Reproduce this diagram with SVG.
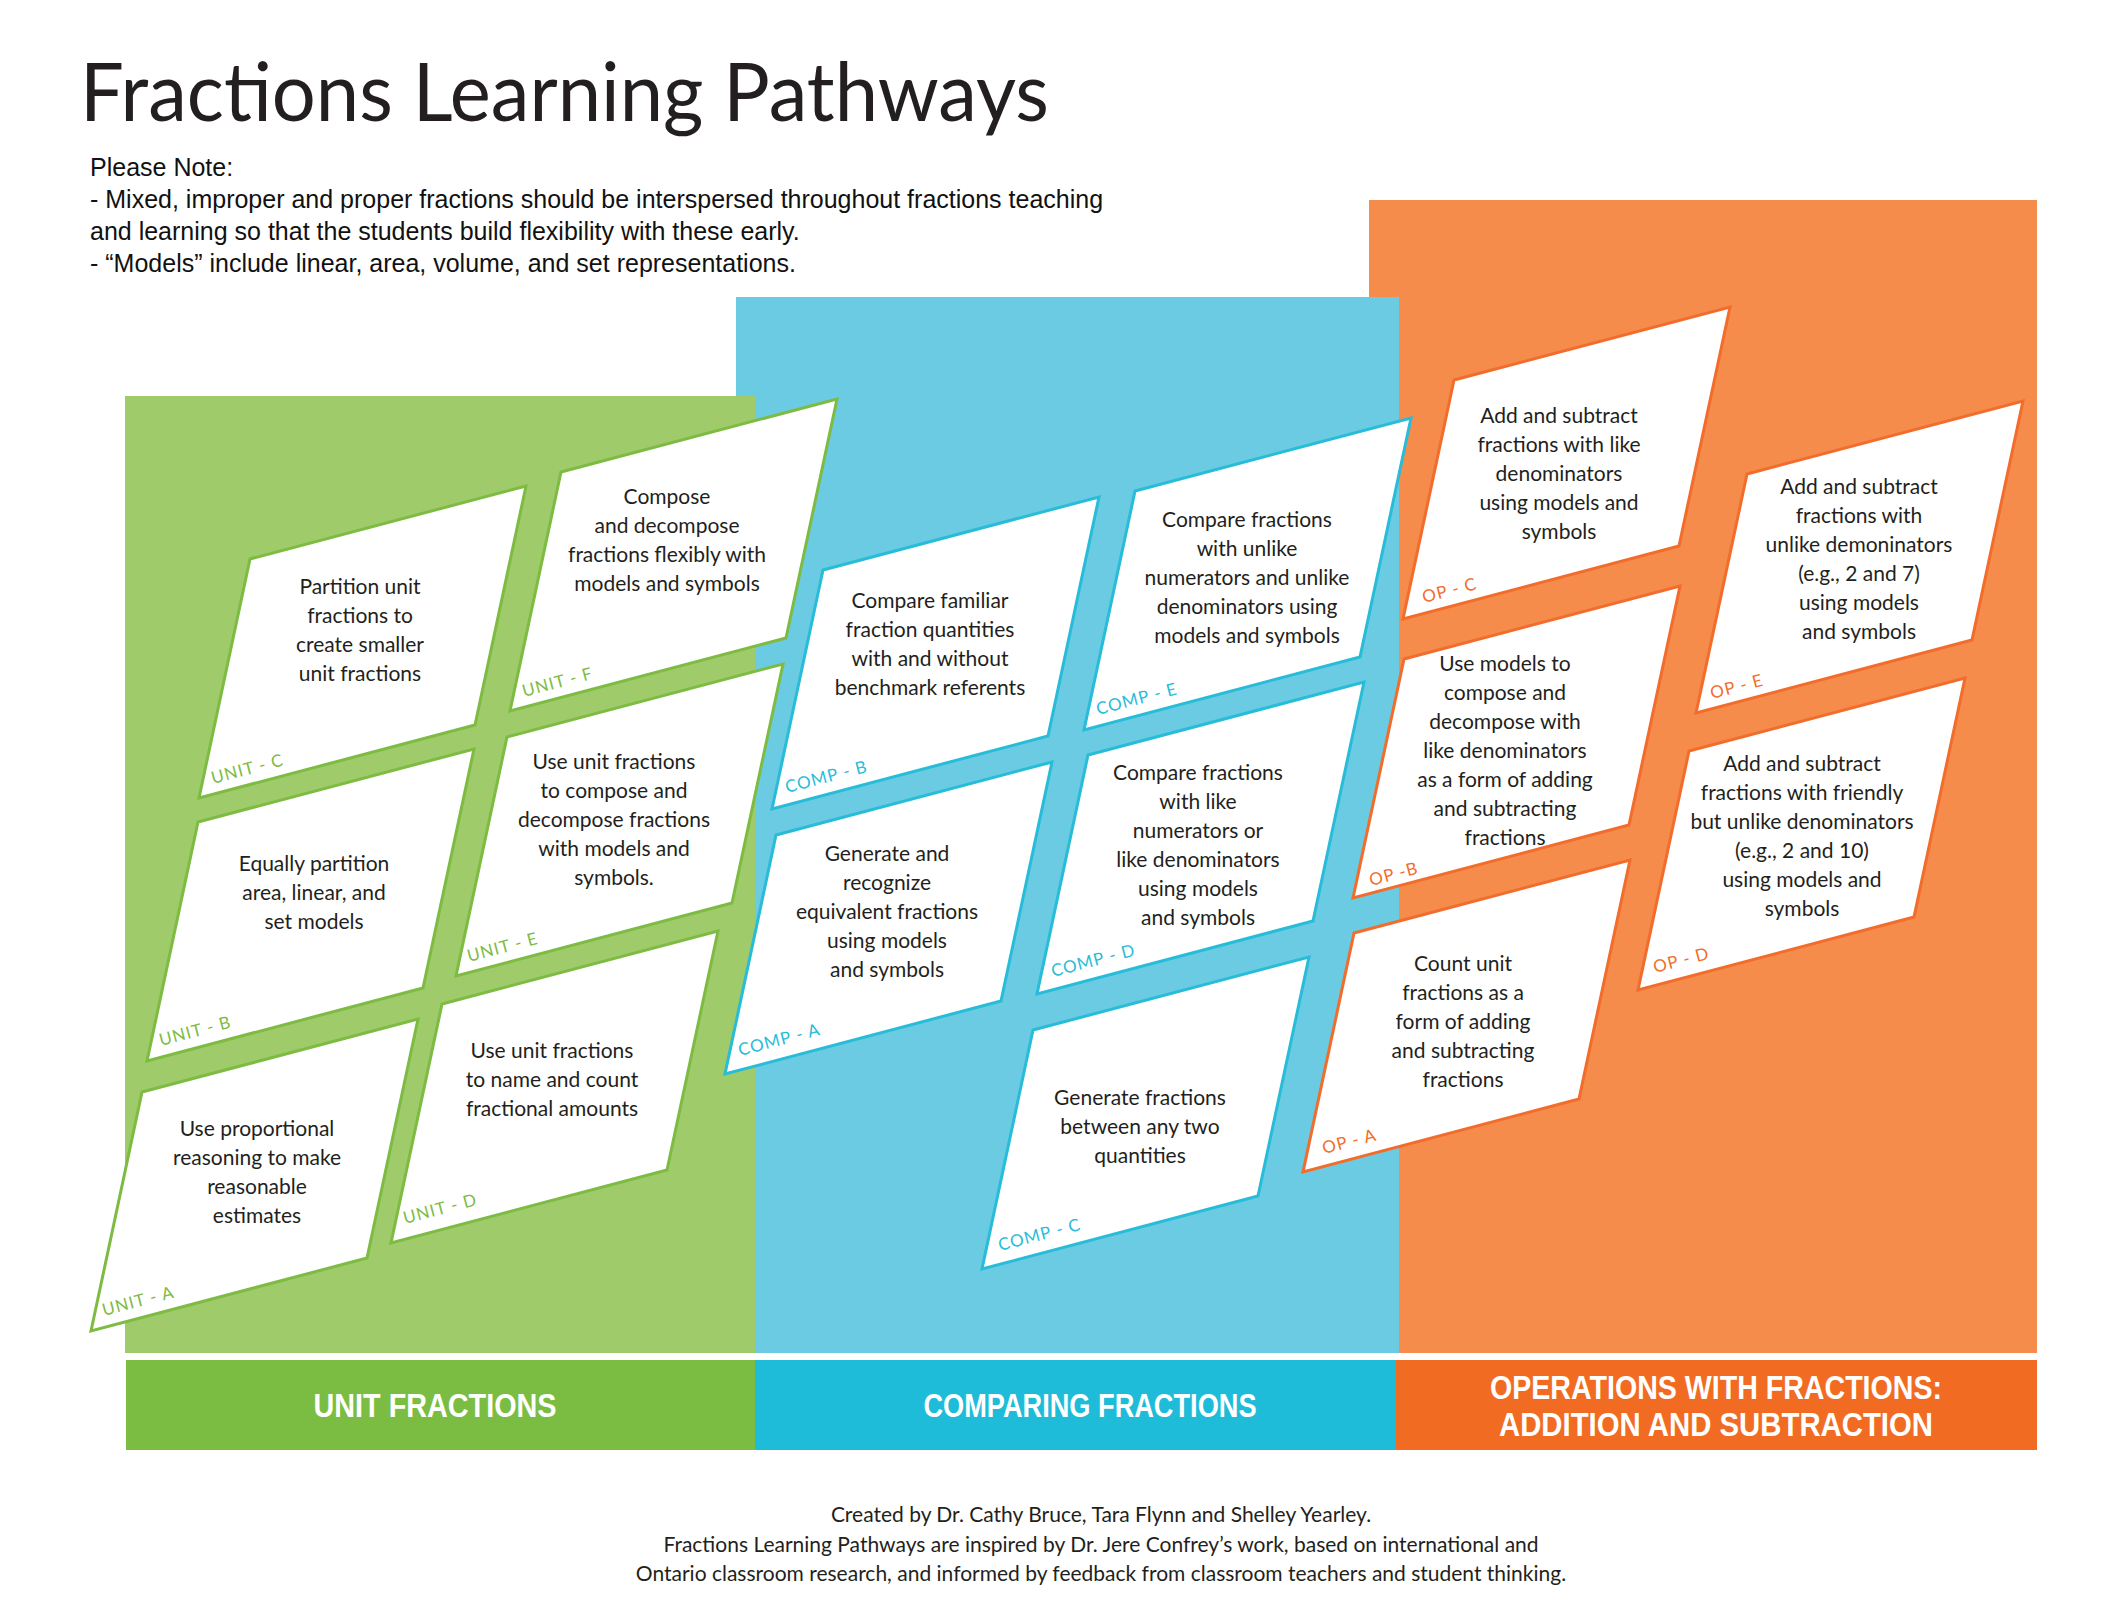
<svg xmlns="http://www.w3.org/2000/svg" width="2105" height="1615" viewBox="0 0 2105 1615">
<style>
.card{fill:#fff;stroke-width:3;stroke-linejoin:miter}
.g .card{stroke:#7dbb42}.b .card{stroke:#27bcd8}.o .card{stroke:#f26c2b}
.t{font-family:Lato,"Open Sans",sans-serif;font-size:21px;fill:#231f20;text-anchor:middle}
.lb{font-family:Lato,"Open Sans",sans-serif;font-size:17px;letter-spacing:1px}
.g .lb{fill:#7dbb42}.b .lb{fill:#27bcd8}.o .lb{fill:#f26c2b}
.bar{font-family:"Liberation Sans Narrow","Liberation Sans",sans-serif;font-weight:bold;font-size:33px;fill:#fff;text-anchor:middle}
.note{font-family:"Liberation Sans",Arial,sans-serif;font-size:25px;fill:#111}
.foot{font-family:Lato,"Open Sans",sans-serif;font-size:21px;fill:#231f20;text-anchor:middle}
</style>
<defs>
<path id="pg" d="M0,0 L276,-73 L225,166 L-51,239 Z"/>
</defs>
<rect width="2105" height="1615" fill="#fff"/>
<text x="80" y="121" font-family="Lato,'Open Sans',sans-serif" font-size="82" fill="#231f20" textLength="969" lengthAdjust="spacingAndGlyphs">Fractions Learning Pathways</text>
<g class="note">
<text x="90" y="176">Please Note:</text>
<text x="90" y="208">- Mixed, improper and proper fractions should be interspersed throughout fractions teaching</text>
<text x="90" y="240">   and learning so that the students build flexibility with these early.</text>
<text x="90" y="272">- “Models” include linear, area, volume, and set representations.</text>
</g>
<g id="panels">
<rect x="1369" y="200" width="668" height="1153" fill="#f58c4c"/>
<rect x="736" y="297" width="663" height="1056" fill="#6bcbe3"/>
<rect x="125" y="396" width="630" height="957" fill="#a0cb6a"/>
<rect x="126" y="1360" width="629" height="90" fill="#7bbd42"/>
<rect x="755" y="1360" width="641" height="90" fill="#1fbcd9"/>
<rect x="1396" y="1360" width="641" height="90" fill="#f26b22"/>
<text class="bar" x="435" y="1417" textLength="243" lengthAdjust="spacingAndGlyphs">UNIT FRACTIONS</text>
<text class="bar" x="1090" y="1417" textLength="333" lengthAdjust="spacingAndGlyphs">COMPARING FRACTIONS</text>
<text class="bar" x="1716" y="1399" textLength="452" lengthAdjust="spacingAndGlyphs">OPERATIONS WITH FRACTIONS:</text>
<text class="bar" x="1716" y="1436" textLength="434" lengthAdjust="spacingAndGlyphs">ADDITION AND SUBTRACTION</text>
</g>
<g id="connectors"></g>

<g class="g">
<g id="unit-c"><use href="#pg" x="250" y="559" class="card"/>
<text class="t" x="360"><tspan x="360" y="594">Partition unit</tspan><tspan x="360" y="623">fractions to</tspan><tspan x="360" y="652">create smaller</tspan><tspan x="360" y="681">unit fractions</tspan></text>
<text class="lb" transform="translate(213,784) rotate(-14.7)">UNIT -  C</text></g>
<g id="unit-f"><use href="#pg" x="561" y="472" class="card"/>
<text class="t"><tspan x="667" y="504">Compose</tspan><tspan x="667" y="533">and decompose</tspan><tspan x="667" y="562">fractions flexibly with</tspan><tspan x="667" y="591">models and symbols</tspan></text>
<text class="lb" transform="translate(524,697) rotate(-14.7)">UNIT - F</text></g>
<g id="unit-b"><use href="#pg" x="198" y="822" class="card"/>
<text class="t"><tspan x="314" y="871">Equally partition</tspan><tspan x="314" y="900">area, linear, and</tspan><tspan x="314" y="929">set models</tspan></text>
<text class="lb" transform="translate(161,1046) rotate(-14.7)">UNIT - B</text></g>
<g id="unit-e"><use href="#pg" x="507" y="737" class="card"/>
<text class="t"><tspan x="614" y="769">Use unit fractions</tspan><tspan x="614" y="798">to compose and</tspan><tspan x="614" y="827">decompose fractions</tspan><tspan x="614" y="856">with models and</tspan><tspan x="614" y="885">symbols.</tspan></text>
<text class="lb" transform="translate(469,962) rotate(-14.7)">UNIT - E</text></g>
<g id="unit-a"><use href="#pg" x="142" y="1092" class="card"/>
<text class="t"><tspan x="257" y="1136">Use proportional</tspan><tspan x="257" y="1165">reasoning to make</tspan><tspan x="257" y="1194">reasonable</tspan><tspan x="257" y="1223">estimates</tspan></text>
<text class="lb" transform="translate(104,1316) rotate(-14.7)">UNIT - A</text></g>
<g id="unit-d"><use href="#pg" x="442" y="1004" class="card"/>
<text class="t"><tspan x="552" y="1058">Use unit fractions</tspan><tspan x="552" y="1087">to name and count</tspan><tspan x="552" y="1116">fractional amounts</tspan></text>
<text class="lb" transform="translate(405,1224) rotate(-14.7)">UNIT - D</text></g>
</g>

<g class="b">
<g id="comp-b"><use href="#pg" x="823" y="570" class="card"/>
<text class="t"><tspan x="930" y="608">Compare familiar</tspan><tspan x="930" y="637">fraction quantities</tspan><tspan x="930" y="666">with and without</tspan><tspan x="930" y="695">benchmark referents</tspan></text>
<text class="lb" transform="translate(787,793) rotate(-14.7)">COMP - B</text></g>
<g id="comp-e"><use href="#pg" x="1135" y="491" class="card"/>
<text class="t"><tspan x="1247" y="527">Compare fractions</tspan><tspan x="1247" y="556">with unlike</tspan><tspan x="1247" y="585">numerators and unlike</tspan><tspan x="1247" y="614">denominators using</tspan><tspan x="1247" y="643">models and symbols</tspan></text>
<text class="lb" transform="translate(1098,715) rotate(-14.7)">COMP - E</text></g>
<g id="comp-a"><use href="#pg" x="776" y="835" class="card"/>
<text class="t"><tspan x="887" y="861">Generate and</tspan><tspan x="887" y="890">recognize</tspan><tspan x="887" y="919">equivalent fractions</tspan><tspan x="887" y="948">using models</tspan><tspan x="887" y="977">and symbols</tspan></text>
<text class="lb" transform="translate(740,1056) rotate(-14.7)">COMP - A</text></g>
<g id="comp-d"><use href="#pg" x="1088" y="755" class="card"/>
<text class="t"><tspan x="1198" y="780">Compare fractions</tspan><tspan x="1198" y="809">with like</tspan><tspan x="1198" y="838">numerators or</tspan><tspan x="1198" y="867">like denominators</tspan><tspan x="1198" y="896">using models</tspan><tspan x="1198" y="925">and symbols</tspan></text>
<text class="lb" transform="translate(1053,977) rotate(-14.7)">COMP - D</text></g>
<g id="comp-c"><use href="#pg" x="1033" y="1030" class="card"/>
<text class="t"><tspan x="1140" y="1105">Generate fractions</tspan><tspan x="1140" y="1134">between any two</tspan><tspan x="1140" y="1163">quantities</tspan></text>
<text class="lb" transform="translate(1000,1251) rotate(-14.7)">COMP - C</text></g>
</g>

<g class="o">
<g id="op-c"><use href="#pg" x="1454" y="380" class="card"/>
<text class="t"><tspan x="1559" y="423">Add and subtract</tspan><tspan x="1559" y="452">fractions with like</tspan><tspan x="1559" y="481">denominators</tspan><tspan x="1559" y="510">using models and</tspan><tspan x="1559" y="539">symbols</tspan></text>
<text class="lb" transform="translate(1424,603) rotate(-14.7)">OP - C</text></g>
<g id="op-b"><use href="#pg" x="1404" y="659" class="card"/>
<text class="t"><tspan x="1505" y="671">Use models to</tspan><tspan x="1505" y="700">compose and</tspan><tspan x="1505" y="729">decompose with</tspan><tspan x="1505" y="758">like denominators</tspan><tspan x="1505" y="787">as a form of adding</tspan><tspan x="1505" y="816">and subtracting</tspan><tspan x="1505" y="845">fractions</tspan></text>
<text class="lb" transform="translate(1371,886) rotate(-14.7)">OP -B</text></g>
<g id="op-a"><use href="#pg" x="1354" y="933" class="card"/>
<text class="t"><tspan x="1463" y="971">Count unit</tspan><tspan x="1463" y="1000">fractions as a</tspan><tspan x="1463" y="1029">form of adding</tspan><tspan x="1463" y="1058">and subtracting</tspan><tspan x="1463" y="1087">fractions</tspan></text>
<text class="lb" transform="translate(1324,1154) rotate(-14.7)">OP - A</text></g>
<g id="op-e"><use href="#pg" x="1747" y="474" class="card"/>
<text class="t"><tspan x="1859" y="494">Add and subtract</tspan><tspan x="1859" y="523">fractions with</tspan><tspan x="1859" y="552">unlike demoninators</tspan><tspan x="1859" y="581">(e.g., 2 and 7)</tspan><tspan x="1859" y="610">using models</tspan><tspan x="1859" y="639">and symbols</tspan></text>
<text class="lb" transform="translate(1712,699) rotate(-14.7)">OP - E</text></g>
<g id="op-d"><use href="#pg" x="1689" y="751" class="card"/>
<text class="t"><tspan x="1802" y="771">Add and subtract</tspan><tspan x="1802" y="800">fractions with friendly</tspan><tspan x="1802" y="829">but unlike denominators</tspan><tspan x="1802" y="858">(e.g., 2 and 10)</tspan><tspan x="1802" y="887">using models and</tspan><tspan x="1802" y="916">symbols</tspan></text>
<text class="lb" transform="translate(1655,973) rotate(-14.7)">OP - D</text></g>
</g>

<text class="foot" x="1101" y="1522">Created by Dr. Cathy Bruce, Tara Flynn and Shelley Yearley.</text>
<text class="foot" x="1101" y="1552">Fractions Learning Pathways are inspired by Dr. Jere Confrey’s work, based on international and</text>
<text class="foot" x="1101" y="1581">Ontario classroom research, and informed by feedback from classroom teachers and student thinking.</text>
</svg>
